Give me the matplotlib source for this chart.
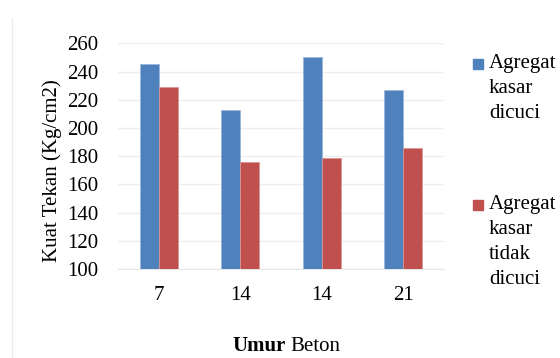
import numpy as np
import matplotlib.pyplot as plt
from matplotlib.patches import Rectangle
from matplotlib.lines import Line2D

categories = ["7", "14", "14", "21"]
dicuci = [245, 213, 250, 227]
tidak_dicuci = [229, 176, 179, 186]
series_labels = ["Agregat\nkasar\ndicuci", "Agregat\nkasar\ntidak\ndicuci"]
colors = ["#4F81BD", "#C0504D"]

plt.rcParams["font.family"] = ["Liberation Serif", "DejaVu Serif"]
FS = 15

W, H = 560, 358
fig = plt.figure(figsize=(W / 100, H / 100), dpi=100)
ax = fig.add_axes([118 / W, 1 - 269 / H, (444 - 118) / W, (269 - 43.3) / H])

x = np.arange(len(categories))
width = 0.235
ax.bar(x - width / 2, dicuci, width, color=colors[0], edgecolor="#9BB7DA", linewidth=0.6, zorder=3)
ax.bar(x + width / 2, tidak_dicuci, width, color=colors[1], edgecolor="#D99593", linewidth=0.6, zorder=3)

ax.set_xlim(-0.5, len(categories) - 0.5)
ax.set_ylim(100, 260)
ax.set_yticks(np.arange(100, 261, 20))
ax.set_xticks(x, categories)
ax.tick_params(axis="both", length=0, labelsize=FS)
ax.tick_params(axis="y", pad=14)
ax.tick_params(axis="x", pad=12)
ax.grid(True, axis="y", color="#EDEDED", linewidth=1, zorder=0)
for s in ["top", "right", "left"]:
    ax.spines[s].set_visible(False)
ax.spines["bottom"].set_color("#E6E6E6")

fig.text(52 / W, 1 - 171 / H, "Kuat Tekan (Kg/cm2)", rotation=90, ha="center", va="center", fontsize=FS)
fig.text(286 / W, 1 - 351 / H, "Umur", fontweight="bold", ha="right", va="baseline", fontsize=FS)
fig.text(290 / W, 1 - 351 / H, "Beton", ha="left", va="baseline", fontsize=FS)

# legend built by hand to match the stacked layout
for top_sq, top_txt, lab, c in [(59, 54, series_labels[0], colors[0]), (200, 195, series_labels[1], colors[1])]:
    fig.patches.append(Rectangle((473 / W, 1 - (top_sq + 10) / H), 10 / W, 10 / H,
                                 transform=fig.transFigure, color=c))
    fig.text(489 / W, 1 - top_txt / H, lab, ha="left", va="top", fontsize=FS, linespacing=1.42)

# faint chart border on the left
fig.lines.append(Line2D([11.5 / W, 11.5 / W], [1 - 357 / H, 1 - 18 / H], transform=fig.transFigure,
                        color="#EDEDED", linewidth=1))

fig.savefig("out.png", dpi=100)
